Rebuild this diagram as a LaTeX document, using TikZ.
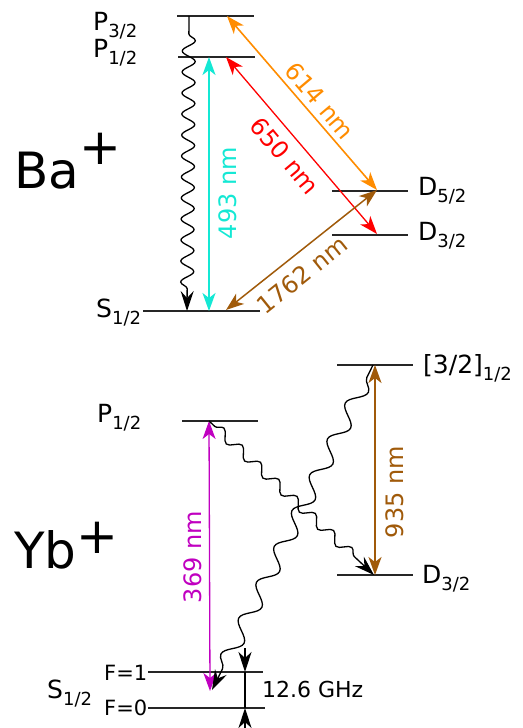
\documentclass[tikz,border=0pt]{standalone}
\usepackage{fontspec}
\usepackage{graphicx}
\setmainfont{DejaVu Sans}
\usetikzlibrary{arrows.meta,decorations.pathmorphing}
\definecolor{cyanC}{RGB}{20,232,212}
\definecolor{orangeC}{RGB}{255,140,0}
\definecolor{redC}{RGB}{255,0,0}
\definecolor{brownC}{RGB}{160,90,10}
\definecolor{magC}{RGB}{192,0,192}
\newcommand\lvlab[2]{#1\raisebox{-0.28em}{\fontsize{18}{18}\selectfont #2}}
\tikzset{
  levelline/.style={line width=1.4pt, black!85},
  trans/.style={line width=1.3pt, {Stealth[length=18pt,width=13pt,inset=5pt]}-{Stealth[length=18pt,width=13pt,inset=5pt]}},
  wavy/.style={line width=1.3pt, decorate, decoration={snake, segment length=#1, amplitude=5pt, pre length=14pt, post length=16pt}, -{Stealth[length=20pt,width=13pt,inset=7pt]}},
  lablevel/.style={font=\fontsize{25}{30}\selectfont, anchor=base west, inner sep=0pt},
  labwave/.style={font=\fontsize{24}{28}\selectfont, inner sep=0pt},
  labsmall/.style={font=\fontsize{21}{25}\selectfont, anchor=base west, inner sep=0pt},
  labion/.style={font=\fontsize{50}{60}\selectfont, anchor=base west, inner sep=0pt},
  ghzarrow/.style={line width=1.3pt, -{Stealth[length=20pt,width=13pt,inset=6pt]}}
}
\begin{document}
\begin{tikzpicture}[x=1pt,y=-1pt]
\useasboundingbox (0,0) rectangle (522,728);
% ===== Ba+ =====
\coordinate (bp3l) at (177,16); \coordinate (bp3r) at (254,16);
\coordinate (bp1l) at (178,57); \coordinate (bp1r) at (255,57);
\coordinate (bsl) at (143,311); \coordinate (bsr) at (260,311);
\coordinate (bd5l) at (332,191); \coordinate (bd5r) at (408,191);
\coordinate (bd3l) at (332,235); \coordinate (bd3r) at (408,235);
\draw[levelline] (bp3l) -- (bp3r);
\draw[levelline] (bp1l) -- (bp1r);
\draw[levelline] (bsl) -- (bsr);
\draw[levelline] (bd5l) -- (bd5r);
\draw[levelline] (bd3l) -- (bd3r);
\coordinate (wa) at (189,16); \coordinate (wb) at (187,311);
\draw[wavy=21pt, decoration={amplitude=6.5pt, pre length=18pt, post length=20pt}] (wa) -- (wb);
\coordinate (ca) at (209,57); \coordinate (cb) at (209,311);
\draw[trans, cyanC, line width=1.8pt] (ca) -- (cb);
\coordinate (ra) at (226,57); \coordinate (rb) at (377,234);
\draw[trans, redC] (ra) -- (rb);
\coordinate (oa) at (227,16); \coordinate (ob) at (377,190);
\draw[trans, orangeC, line width=1.6pt] (oa) -- (ob);
\coordinate (ba) at (377,190); \coordinate (bb) at (226,310);
\draw[trans, brownC, line width=1.5pt] (ba) -- (bb);
\node[labwave, cyanC, rotate=90] (l493) at (228,193) {493 nm};
\node[labwave, redC, rotate=-50.1] (l650) at (285,156) {650 nm};
\node[labwave, orangeC, rotate=-49.8] (l614) at (320,101) {614 nm};
\node[labwave, brownC, rotate=38.8] (l1762) at (302,275) {1762 nm};
\node[lablevel] (tp3) at (93,30) {\lvlab{P}{3/2}};
\node[lablevel] (tp1) at (93,57) {\lvlab{P}{1/2}};
\node[lablevel] (ts) at (96,317) {\lvlab{S}{1/2}};
\node[lablevel] (td5) at (418,195) {\lvlab{D}{5/2}};
\node[lablevel] (td3) at (418,240) {\lvlab{D}{3/2}};
\node[labion] (tba) at (14,188) {Ba\raisebox{24pt}{+}};
% ===== Yb+ =====
\coordinate (ypl) at (182,421); \coordinate (ypr) at (258,421);
\coordinate (yql) at (337,365); \coordinate (yqr) at (413,365);
\coordinate (ydl) at (337,575); \coordinate (ydr) at (413,575);
\coordinate (f1l) at (148,672); \coordinate (f1r) at (263,672);
\coordinate (f0l) at (148,708); \coordinate (f0r) at (265,708);
\draw[levelline] (ypl) -- (ypr);
\draw[levelline] (yql) -- (yqr);
\draw[levelline] (ydl) -- (ydr);
\draw[levelline] (f1l) -- (f1r);
\draw[levelline] (f0l) -- (f0r);
\coordinate (ma) at (209,421); \coordinate (mb) at (210,691);
\draw[trans, magC] (ma) -- (mb);
\coordinate (na) at (375,365); \coordinate (nb) at (375,575);
\draw[trans, brownC, line width=1.6pt] (na) -- (nb);
\coordinate (xa) at (209,421); \coordinate (xb) at (374,575);
\draw[wavy=25pt, decoration={amplitude=5pt, pre length=8pt}] (xa) -- (xb);
\coordinate (za) at (373,365); \coordinate (zb) at (212,690);
\draw[wavy=40pt, decoration={amplitude=8pt, pre length=14pt}] (za) -- (zb);
\coordinate (ga) at (245,648); \coordinate (gb) at (245,672);
\coordinate (gc) at (245,708); \coordinate (gd) at (245,732);
\draw[ghzarrow] (ga) -- (gb);
\draw[line width=1.3pt] (gb) -- (gc);
\draw[ghzarrow] (gd) -- (gc);
\node[labwave, magC, rotate=90] (l369) at (193,557) {369 nm};
\node[labwave, brownC, rotate=90] (l935) at (395,492) {935 nm};
\node[lablevel] (typ) at (97,422) {\lvlab{P}{1/2}};
\node[lablevel] (tyq) at (423,373) {\lvlab{[3/2]}{1/2}};
\node[lablevel] (tyd) at (422,583) {\lvlab{D}{3/2}};
\node[lablevel] (tys) at (47,698) {\lvlab{S}{1/2}};
\node[labsmall] (tf1) at (104,680) {F=1};
\node[labsmall] (tf0) at (104,715) {F=0};
\node[labsmall, font=\fontsize{22}{26}\selectfont] (tghz) at (262,697) {12.6 GHz};
\node[labion] (tyb) at (14,568) {Yb\raisebox{15pt}{+}};
\end{tikzpicture}
\end{document}
